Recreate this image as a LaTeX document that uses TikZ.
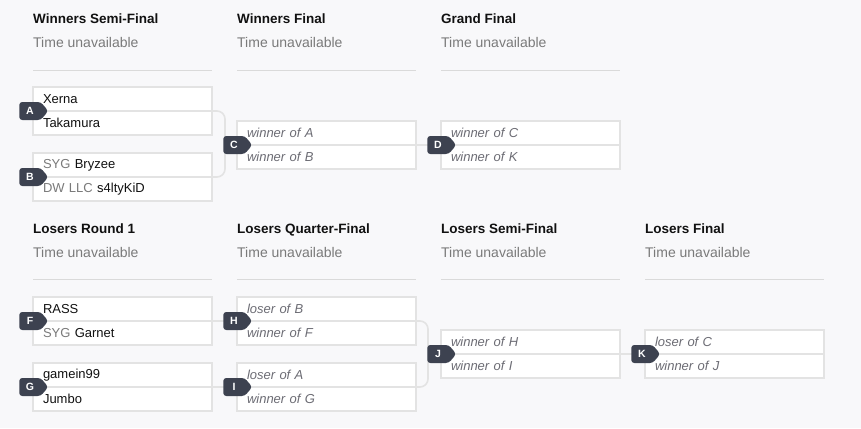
\documentclass[tikz,border=0pt]{standalone}
\usepackage{fontspec}
\setmainfont{Liberation Sans}
\usetikzlibrary{shapes.symbols}

\definecolor{pagebg}{HTML}{F8F8FA}
\definecolor{boxline}{HTML}{E3E3E3}
\definecolor{ruleline}{HTML}{DADADA}
\definecolor{tagfill}{HTML}{3D4250}
\definecolor{mutedtext}{HTML}{7A7A7A}
\definecolor{placeholder}{HTML}{6C6C74}
\definecolor{nametext}{HTML}{111111}

\begin{document}
\begin{tikzpicture}[x=1pt,y=-1pt,
    slot/.style={draw=boxline, line width=1.6pt, fill=white, outer sep=0pt,
                 anchor=north west, minimum height=24pt, text width=159pt,
                 inner xsep=10pt, inner ysep=0pt, align=left,
                 font=\fontsize{13}{15}\selectfont, text=nametext},
    tbd/.style={slot, font=\fontsize{13}{15}\selectfont\itshape, text=placeholder},
    tag/.style={signal, signal to=east, signal pointer angle=100, fill=tagfill,
                rounded corners=3pt, minimum width=29pt, minimum height=18pt,
                inner xsep=1pt, inner ysep=0pt, xshift=-3pt, text=white,
                font=\fontsize{10.5}{10.5}\selectfont\bfseries},
    round/.style={anchor=base west, inner sep=0pt, text=nametext,
                  font=\fontsize{13.5}{16}\selectfont\bfseries},
    when/.style={anchor=base west, inner sep=0pt, text=mutedtext,
                 font=\fontsize{14}{16}\selectfont},
    conn/.style={draw=boxline, line width=1.6pt, rounded corners=8pt},
    sep/.style={draw=ruleline, line width=0.8pt}]

  \useasboundingbox[fill=pagebg] (0,0) rectangle (861,428);

  % round headers
  \node[round] (hWSF) at (33,24)  {Winners Semi-Final};
  \node[when]  (tWSF) at (33,48)  {Time unavailable};
  \node[round] (hWF)  at (237,24) {Winners Final};
  \node[when]  (tWF)  at (237,48) {Time unavailable};
  \node[round] (hGF)  at (441,24) {Grand Final};
  \node[when]  (tGF)  at (441,48) {Time unavailable};
  \draw[sep] (33,70.5) -- ++(179,0);
  \draw[sep] (237,70.5) -- ++(179,0);
  \draw[sep] (441,70.5) -- ++(179,0);

  \node[round] (hLR1) at (33,233)  {Losers Round 1};
  \node[when]  (tLR1) at (33,257)  {Time unavailable};
  \node[round] (hLQF) at (237,233) {Losers Quarter-Final};
  \node[when]  (tLQF) at (237,257) {Time unavailable};
  \node[round] (hLSF) at (441,233) {Losers Semi-Final};
  \node[when]  (tLSF) at (441,257) {Time unavailable};
  \node[round] (hLF)  at (645,233) {Losers Final};
  \node[when]  (tLF)  at (645,257) {Time unavailable};
  \draw[sep] (33,279.5) -- ++(179,0);
  \draw[sep] (237,279.5) -- ++(179,0);
  \draw[sep] (441,279.5) -- ++(179,0);
  \draw[sep] (645,279.5) -- ++(179,0);

  % winners bracket
  \node[slot] (At) at (33,87)        {Xerna};
  \node[slot] (Ab) at (At.south west) {Takamura};
  \node[slot] (Bt) at (33,153)       {{\color{mutedtext}SYG} Bryzee};
  \node[slot] (Bb) at (Bt.south west) {{\color{mutedtext}DW LLC} s4ltyKiD};
  \node[tbd]  (Ct) at (237,121)      {winner of A};
  \node[tbd]  (Cb) at (Ct.south west) {winner of B};
  \node[tbd]  (Dt) at (441,121)      {winner of C};
  \node[tbd]  (Db) at (Dt.south west) {winner of K};

  % losers bracket
  \node[slot] (Ft) at (33,297)       {RASS};
  \node[slot] (Fb) at (Ft.south west) {{\color{mutedtext}SYG} Garnet};
  \node[slot] (Gt) at (33,363)       {gamein99};
  \node[slot] (Gb) at (Gt.south west) {Jumbo};
  \node[tbd]  (Ht) at (237,297)      {loser of B};
  \node[tbd]  (Hb) at (Ht.south west) {winner of F};
  \node[tbd]  (It) at (237,363)      {loser of A};
  \node[tbd]  (Ib) at (It.south west) {winner of G};
  \node[tbd]  (Jt) at (441,330)      {winner of H};
  \node[tbd]  (Jb) at (Jt.south west) {winner of I};
  \node[tbd]  (Kt) at (645,330)      {loser of C};
  \node[tbd]  (Kb) at (Kt.south west) {winner of J};

  % connectors
  \draw[conn] (At.south east) -- ++(13,0) |- (Bt.south east);
  \draw[conn] (Ct.south east) -- (Dt.south west);
  \draw[conn] (Ft.south east) -- (Ht.south west);
  \draw[conn] (Gt.south east) -- (It.south west);
  \draw[conn] (Ht.south east) -- ++(12,0) |- (It.south east);
  \draw[conn] (Jt.south east) -- (Kt.south west);

  % match tags
  \node[tag] (tagA) at (At.south west) {A};
  \node[tag] (tagB) at (Bt.south west) {B};
  \node[tag] (tagC) at (Ct.south west) {C};
  \node[tag] (tagD) at (Dt.south west) {D};
  \node[tag] (tagF) at (Ft.south west) {F};
  \node[tag] (tagG) at (Gt.south west) {G};
  \node[tag] (tagH) at (Ht.south west) {H};
  \node[tag] (tagI) at (It.south west) {I};
  \node[tag] (tagJ) at (Jt.south west) {J};
  \node[tag] (tagK) at (Kt.south west) {K};
\end{tikzpicture}
\end{document}
